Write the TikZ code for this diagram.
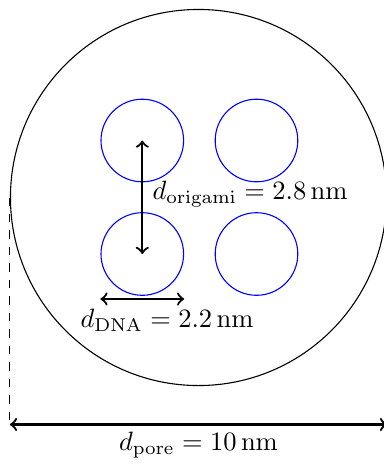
\documentclass[tikz,border=0pt]{standalone}
\begin{document}
\begin{tikzpicture}[x=0.364pt,y=-0.364pt,
  pore/.style={draw=black,circle,inner sep=0pt,minimum size=136.9pt,line width=0.4pt},
  dna/.style={draw=blue,circle,inner sep=0pt,minimum size=30.07pt,line width=0.4pt},
  dim/.style={<->,thick},
  lbl/.style={inner sep=0pt,scale=0.965}]
\useasboundingbox (0,0) rectangle (384,465);
\node[pore] (pore) at (198.5,197.5) {};
\node[dna] (a) at (142.3,140.5) {};
\node[dna] (b) at (256.5,140.5) {};
\node[dna] (c) at (142.3,254) {};
\node[dna] (d) at (256.5,254) {};
\draw[dim] (a.center) -- (c.center);
\node[lbl,anchor=west] (lo) at (152,194) {$d_{\mathrm{origami}} = 2.8\,\mathrm{nm}$};
\draw[dim] (c.west |- 0,299) -- (c.east |- 0,299);
\node[lbl] (ld) at (167,320.5) {$d_{\mathrm{DNA}} = 2.2\,\mathrm{nm}$};
\coordinate (bl) at (pore.west |- 0,424.5);
\coordinate (br) at (pore.east |- 0,424.5);
\draw[dashed,line width=0.4pt] (pore.west) -- (bl);
\draw[dim] (bl) -- (br);
\node[lbl] (lp) at (198.5,445) {$d_{\mathrm{pore}} = 10\,\mathrm{nm}$};
\end{tikzpicture}
\end{document}
